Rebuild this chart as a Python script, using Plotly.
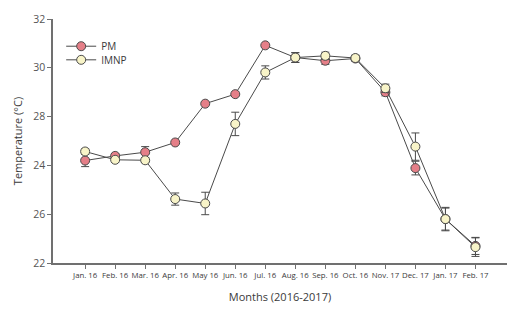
import plotly.graph_objects as go

months = ["Jan. 16", "Feb. 16", "Mar. 16", "Apr. 16", "May 16", "Jun. 16", "Jul. 16",
          "Aug. 16", "Sep. 16", "Oct. 16", "Nov. 17", "Dec. 17", "Jan. 17", "Feb. 17"]
pm = [26.2, 26.39, 26.54, 26.94, 28.53, 28.92, 30.92, 30.42, 30.29, 30.38, 29.0, 25.89, 23.8, 22.7]
pm_err = [0.25, 0.1, 0.23, 0.0, 0.0, 0.0, 0.0, 0.2, 0.15, 0.1, 0.15, 0.28, 0.45, 0.35]
imnp = [26.57, 26.23, 26.21, 24.62, 24.44, 27.7, 29.81, 30.42, 30.49, 30.4, 29.16, 26.77, 23.8, 22.65]
imnp_err = [0.12, 0.1, 0.1, 0.25, 0.46, 0.48, 0.27, 0.2, 0.15, 0.12, 0.17, 0.56, 0.48, 0.38]
ytick_vals = [22, 24, 26, 28, 30, 32]
ytick_text = ["22", "26", "24", "28", "30", "32"]

font = "Open Sans"
txt = "#3a3a3a"
fig = go.Figure()
fig.add_trace(go.Scatter(
    x=months, y=pm, name="PM", mode="lines+markers", legend="legend",
    line=dict(color="#4a4a4a", width=1),
    marker=dict(size=9, color="#e57f88", line=dict(color="#4a4a4a", width=1)),
    error_y=dict(type="data", array=pm_err, color="#4a4a4a", thickness=1, width=4),
))
fig.add_trace(go.Scatter(
    x=months, y=imnp, name="IMNP", mode="lines+markers", legend="legend2",
    line=dict(color="#4a4a4a", width=1),
    marker=dict(size=9, color="#f8f4c8", line=dict(color="#4a4a4a", width=1)),
    error_y=dict(type="data", array=imnp_err, color="#4a4a4a", thickness=1, width=4),
))

leg = dict(xanchor="left", yanchor="middle",
           font=dict(size=10, family=font, color=txt),
           bgcolor="rgba(0,0,0,0)", itemwidth=30)
fig.update_layout(
    width=528, height=312,
    margin=dict(l=45, r=29, t=4, b=57),
    paper_bgcolor="white", plot_bgcolor="white",
    font=dict(family=font, color=txt, size=9),
    showlegend=True,
    legend=dict(x=0.018, y=0.8885, **leg),
    legend2=dict(x=0.018, y=0.8327, **leg),
    xaxis=dict(
        type="category", range=[-1.07, 14.05],
        showline=True, linecolor="#707070", linewidth=1.5,
        ticks="outside", ticklen=4, tickcolor="#707070", tickwidth=1,
        showgrid=False, zeroline=False, tickangle=0,
        tickfont=dict(size=7.8, family=font, color=txt),
        title=dict(text="Months (2016-2017)", font=dict(size=11, family=font, color=txt), standoff=14),
    ),
    yaxis=dict(
        range=[22, 32], tickvals=ytick_vals, ticktext=ytick_text,
        showline=True, linecolor="#707070", linewidth=1.5,
        ticks="outside", ticklen=4, tickcolor="#707070", tickwidth=1,
        showgrid=False, zeroline=False, ticklabeloverflow="allow",
        tickfont=dict(size=10.5, family=font, color="#555555"),
        title=dict(text="Temperature (°C)", font=dict(size=11, family=font, color=txt), standoff=8),
    ),
)
fig.write_html("out.html")
